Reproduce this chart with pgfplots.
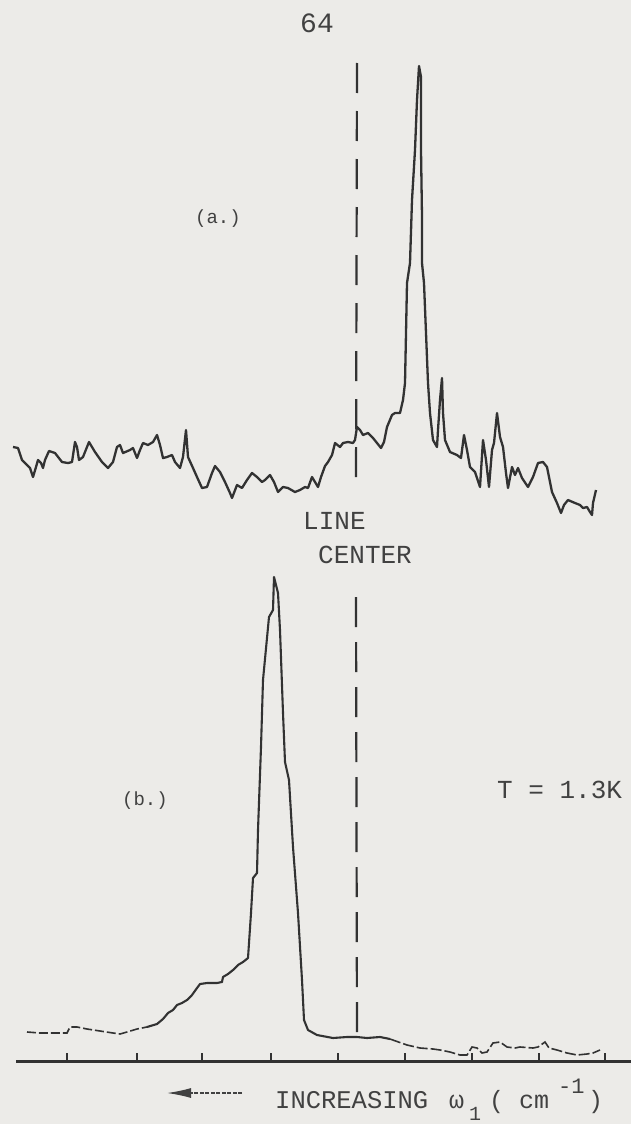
\documentclass[border=0pt]{standalone}
\usepackage{pgfplots}
\pgfplotsset{compat=1.18}
\usepackage{fontspec}
\newfontfamily\tw{Liberation Mono}
\usetikzlibrary{arrows.meta}
\definecolor{paper}{RGB}{236,235,232}
\definecolor{ink}{RGB}{50,50,50}
\definecolor{txt}{RGB}{65,65,65}
\begin{document}
\begin{tikzpicture}
\fill[paper] (0,0) rectangle (631pt,1124pt);
\begin{axis}[at={(0,0)}, anchor=south west,
  width=631pt, height=1124pt, scale only axis,
  xmin=0, xmax=631, ymin=0, ymax=1124, y dir=reverse,
  hide axis, clip=false]
% trace (a)
\addplot[ink, line width=2.3pt, line join=round] coordinates {
(13,447) (18,448) (22,460) (27,465) (30,468) (33,477) (36,467) (38,460) (41,463) (43,468) (45,460) (49,451) (55,453) (62,462) (68,463) (72,462) (75,442) (77,447) (79,460) (83,457) (89,442) (95,452) (102,462) (108,468) (113,462) (117,447) (120,445) (123,453) (130,450) (133,448) (137,458) (140,450) (143,443) (148,445) (153,442) (157,435) (160,445) (163,458) (167,457) (172,455) (175,462) (180,468) (183,457) (186,430) (188,457) (193,468) (197,477) (202,488) (207,487) (212,473) (215,466) (220,472) (225,482) (230,493) (232,498) (237,485) (242,488) (247,480) (252,473) (257,477) (262,482) (265,480) (270,475) (274,482) (278,492) (283,487) (288,488) (295,492) (300,490) (305,487) (308,488) (312,477) (315,482) (318,487) (321,477) (325,466) (328,462) (332,455) (335,443) (340,447) (343,443) (348,442) (353,443) (355,440) (357,427) (360,430) (363,435) (368,433) (373,438) (377,443) (381,448) (384,442) (387,427) (392,415) (395,413) (400,413) (403,400) (405,383) (407,283) (410,263) (412,200) (415,150) (417,100) (419,66) (421,77) (421,150) (422,217) (422,263) (424,283) (426,333) (428,383) (430,413) (433,440) (437,447) (438,430) (440,400) (442,378) (443,413) (445,440) (450,452) (457,455) (461,458) (464,435) (467,450) (470,467) (475,472) (480,487) (483,440) (486,460) (489,487) (492,450) (494,443) (497,413) (500,437) (503,447) (506,473) (508,488) (512,467) (515,475) (518,468) (522,478) (528,487) (533,477) (538,463) (543,462) (547,467) (552,492) (557,503) (561,513) (564,505) (568,500) (575,503) (580,505) (583,508) (587,507) (590,512) (592,515) (593,503) (596,490)
};
% trace (b): left faint part
\addplot[ink, line width=1.6pt, dash pattern=on 9pt off 3pt] coordinates {
(27,1032) (40,1033) (53,1033) (67,1033) (70,1027) (77,1027) (87,1029) (100,1031) (113,1033) (120,1034) (127,1032) (137,1029) (147,1027)
};
% trace (b): main part
\addplot[ink, line width=2.1pt, line join=round] coordinates {
(147,1027) (157,1024) (163,1019) (168,1013) (173,1010) (177,1005) (182,1003) (187,1000) (192,995) (197,988) (200,984) (207,983) (217,983) (222,982) (223,977) (228,974) (233,970) (238,965) (243,962) (248,958) (251,913) (253,878) (257,873) (258,830) (261,747) (263,680) (267,638) (269,617) (273,610) (274,577) (278,593) (280,630) (283,713) (285,762) (289,780) (293,847) (298,913) (302,980) (304,1020) (308,1030) (317,1035) (333,1038) (347,1037) (357,1037) (367,1038) (380,1037) (390,1039)
};
% trace (b): right faint part
\addplot[ink, line width=1.6pt, dash pattern=on 11pt off 3pt] coordinates {
(390,1039) (407,1045) (420,1048) (433,1049) (440,1050) (450,1052) (460,1055) (467,1055) (472,1047) (477,1048) (482,1053) (487,1052) (493,1043) (500,1042) (507,1047) (515,1048) (520,1047) (533,1048) (538,1047) (545,1042) (549,1048) (557,1050) (567,1053) (577,1055) (587,1054) (593,1053) (600,1050)
};
% line centre
\addplot[ink, line width=2.2pt, dash pattern=on 30pt off 18pt] coordinates {(357,63) (356,490)};
\addplot[ink, line width=2.2pt, dash pattern=on 30pt off 15pt] coordinates {(356,597) (357,1040)};
% baseline with ticks
\addplot[ink, line width=3pt] coordinates {(16,1061) (631,1061)};
\addplot[ink, only marks, mark=|, mark size=4pt, mark options={line width=2pt}] coordinates {
(67,1057) (137,1057) (202,1057) (271,1057) (338,1057) (405,1057) (472,1057) (539,1057) (605,1057)
};
% texts
\node[txt, font={\tw\fontsize{28}{30}\selectfont}] at (axis cs:317,23) {64};
\node[txt, font={\tw\fontsize{19}{21}\selectfont}] at (axis cs:218,219) {(a.)};
\node[txt, font={\tw\fontsize{19}{21}\selectfont}] at (axis cs:145,801) {(b.)};
\node[txt, anchor=base west, inner sep=0pt, font={\tw\fontsize{26}{28}\selectfont}] at (axis cs:303,529) {LINE};
\node[txt, anchor=base west, inner sep=0pt, font={\tw\fontsize{26}{28}\selectfont}] at (axis cs:318,563) {CENTER};
\node[txt, anchor=base west, inner sep=0pt, font={\tw\fontsize{26}{28}\selectfont}] at (axis cs:497,798) {T = 1.3K};
\node[txt, anchor=base west, inner sep=0pt, font={\tw\fontsize{25.5}{28}\selectfont}] at (axis cs:275,1108) {INCREASING};
\node[txt, anchor=base west, inner sep=0pt, font={\tw\fontsize{25}{28}\selectfont}] at (axis cs:449,1108) {ω};
\node[txt, anchor=base west, inner sep=0pt, font={\tw\fontsize{20}{22}\selectfont}] at (axis cs:469,1120) {1};
\node[txt, anchor=base west, inner sep=0pt, font={\tw\fontsize{25}{28}\selectfont}] at (axis cs:489,1108) {( cm};
\node[txt, anchor=base west, inner sep=0pt, font={\tw\fontsize{22}{24}\selectfont}] at (axis cs:558,1093) {-1};
\node[txt, anchor=base west, inner sep=0pt, font={\tw\fontsize{25}{28}\selectfont}] at (axis cs:588,1108) {)};
\draw[txt, line width=1.3pt, dash pattern=on 4pt off 1.5pt, -{Latex[length=24pt,width=10pt]}] (axis cs:242,1093) -- (axis cs:167,1093);
\end{axis}
\end{tikzpicture}
\end{document}
